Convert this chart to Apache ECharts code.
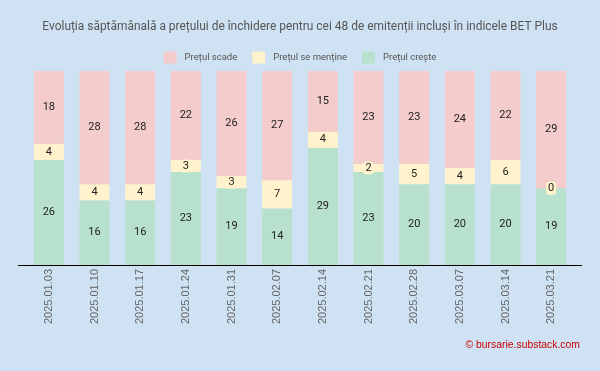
<!DOCTYPE html>
<html><head><meta charset="utf-8">
<script src="https://cdn.jsdelivr.net/npm/echarts@6/dist/echarts.min.js"></script>
<style>html,body{margin:0;padding:0;background:#cfe2f3}#c{width:600px;height:371px}</style>
</head><body><div id="c"></div>
<script>
var categories = ['2025.01.03','2025.01.10','2025.01.17','2025.01.24','2025.01.31','2025.02.07','2025.02.14','2025.02.21','2025.02.28','2025.03.07','2025.03.14','2025.03.21'];
var creste  = [26,16,16,23,19,14,29,23,20,20,20,19];
var mentine = [4,4,4,3,3,7,4,2,5,4,6,0];
var scade   = [18,28,28,22,26,27,15,23,23,24,22,29];

var chart = echarts.init(document.getElementById('c'));
var lbl = {show:true, position:'inside', color:'#222', fontSize:11, fontFamily:'Roboto'};
chart.setOption({
  backgroundColor:'#cfe2f3',
  animation:false,
  title:{text:'Evoluția săptămânală a prețului de închidere pentru cei 48 de emitenții incluși în indicele BET Plus',
    left:'center', top:16, padding:[5,13,5,5], textStyle:{fontFamily:'Roboto', fontSize:11.95, fontWeight:'normal', color:'#555'}},
  legend:{top:46.5, left:'center', itemWidth:13, itemHeight:12, itemGap:15, icon:'rect',
    textStyle:{fontFamily:'Roboto', fontSize:9.5, color:'#555', padding:[0,0,0,3]},
    data:['Prețul scade','Prețul se menține','Prețul crește']},
  grid:{left:26, right:26, top:71, bottom:106},
  xAxis:{type:'category', data:categories, axisLine:{show:false}, axisTick:{show:false},
    axisLabel:{rotate:90, color:'#666', fontSize:11, fontFamily:'Arimo, Liberation Sans, Arial', margin:4}},
  yAxis:{type:'value', min:0, max:48, show:false, splitLine:{show:false}},
  graphic:[
    {type:'line', shape:{x1:18,y1:265.5,x2:582,y2:265.5}, style:{stroke:'#000', lineWidth:1}},
    {type:'text', right:20, top:340, style:{text:'© bursarie.substack.com', fill:'#cc0000', font:'10.4px Arimo, "Liberation Sans", Arial'}}
  ],
  series:[
    {name:'Prețul crește', type:'bar', stack:'a', barWidth:30, data:creste, itemStyle:{color:'#b7e1cd'}, label:lbl},
    {name:'Prețul se menține', type:'bar', stack:'a', barWidth:30, data:mentine, itemStyle:{color:'#fff2cc'},
      label:Object.assign({}, lbl, {backgroundColor:'#fff2cc', borderRadius:3, padding:[1,2]})},
    {name:'Prețul scade', type:'bar', stack:'a', barWidth:30, data:scade, itemStyle:{color:'#f4cccc'}, label:lbl}
  ]
});
</script></body></html>
